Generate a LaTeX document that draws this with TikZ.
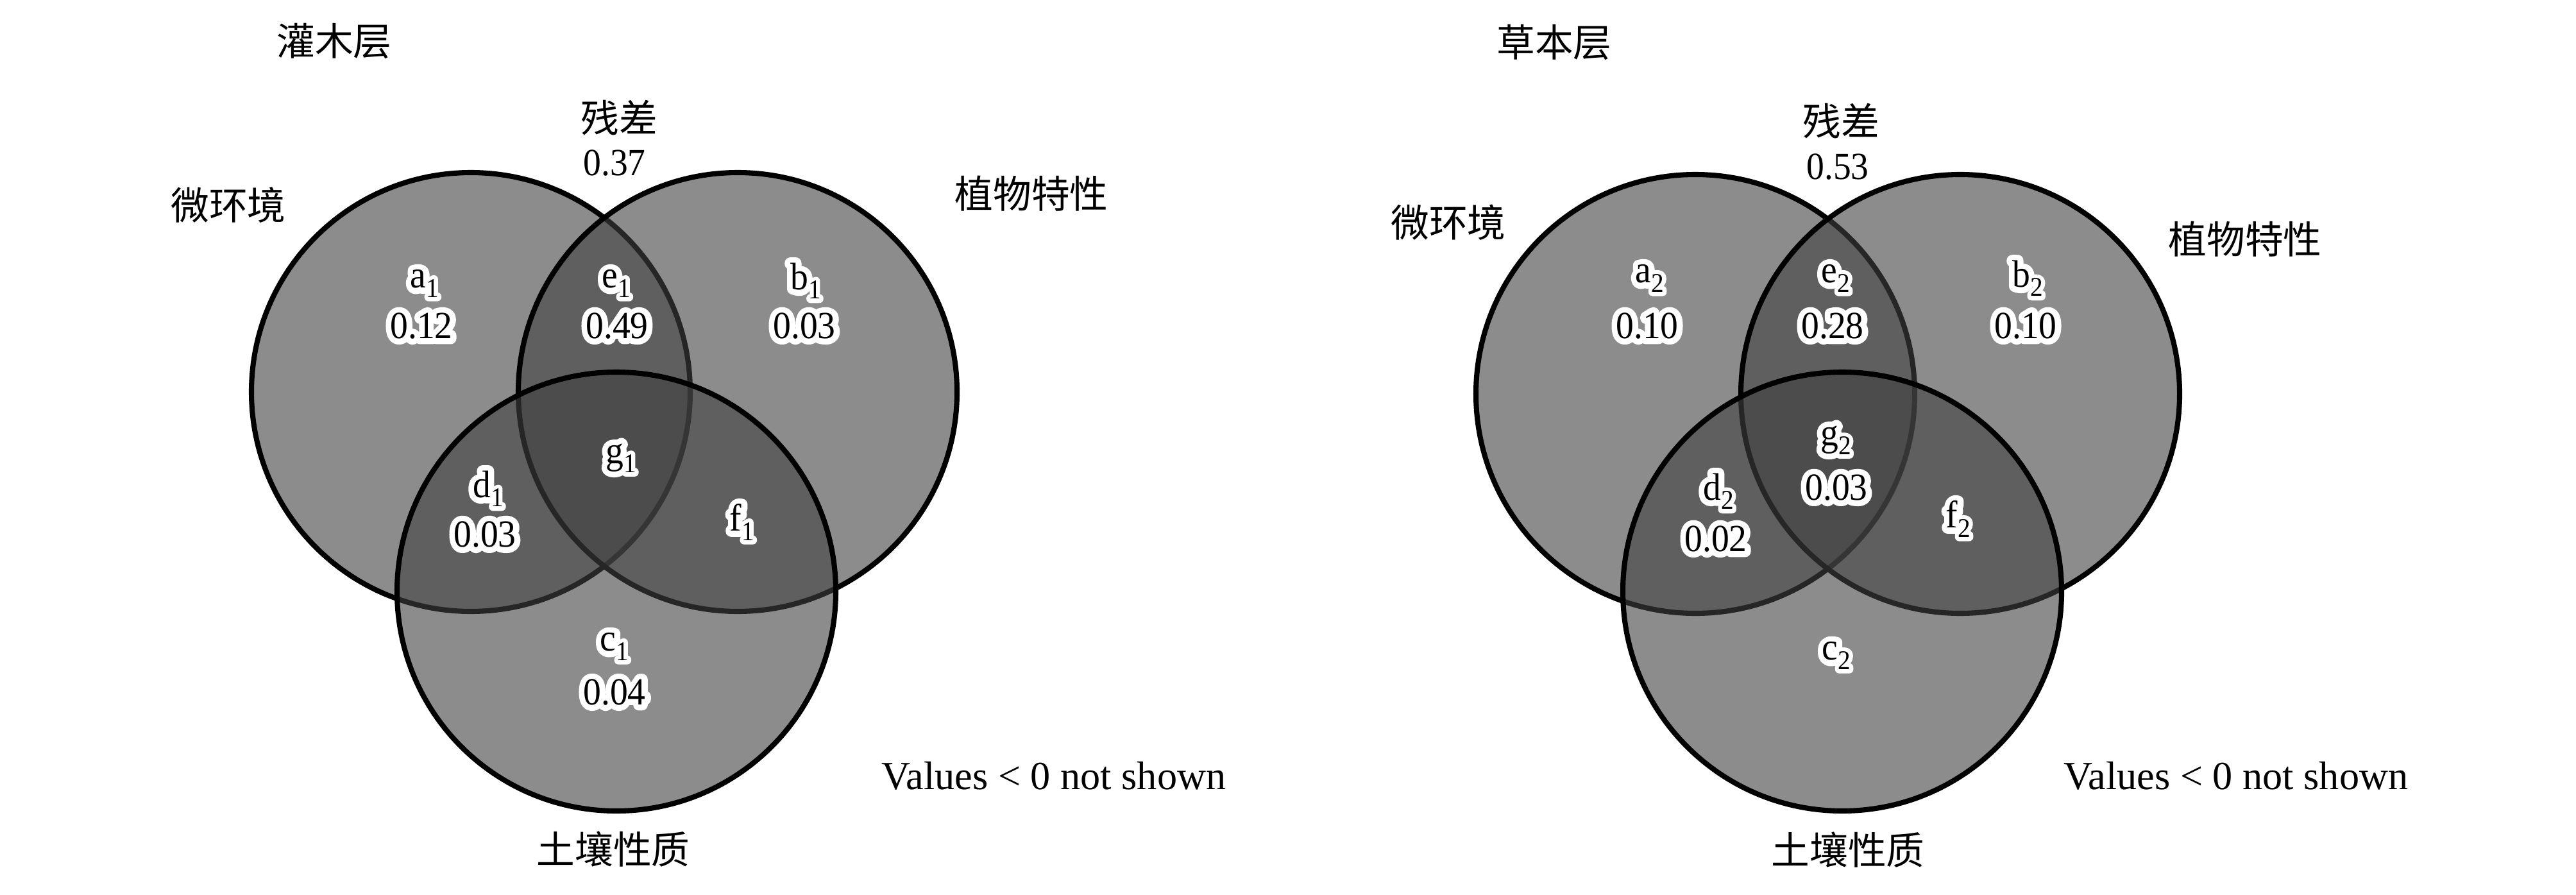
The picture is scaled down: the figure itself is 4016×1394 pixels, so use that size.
\documentclass[tikz,border=0pt]{standalone}
\usepackage{fontspec}
\setmainfont{Liberation Serif}
\newfontfamily\cjk{Noto Sans CJK SC}
\newfontfamily\labfont{Liberation Serif}[FakeStretch=0.93]
\newfontfamily\halofont{Liberation Serif}[FakeStretch=0.93,FakeBold=30]
\newcommand\lblsize{\fontsize{17pt}{20pt}\selectfont}
\newcommand\lsub[1]{\raisebox{-0.24em}{\fontsize{12pt}{12pt}\selectfont #1}}
\newcommand\hlab[3]{%
  \node[lbl,font=\halofont\lblsize,text=white,line join=round] at (#2) {#3};%
  \node[lbl] (#1) at (#2) {#3};}
\begin{document}
\begin{tikzpicture}[x=0.01cm,y=-0.01cm,
  lbl/.style={inner sep=0pt, font=\labfont\lblsize},
  note/.style={inner sep=0pt, font=\fontsize{17.7pt}{20pt}\selectfont},
  cjkl/.style={inner sep=0pt, font=\cjk\fontsize{17pt}{20pt}\selectfont},
  setc/.style={draw=black, line width=2.3pt, fill=black!75, fill opacity=0.6}]
\useasboundingbox (0,0) rectangle (4016,1394);
% ---------------- left panel (shrub layer)
\draw[setc] (734,611) circle[radius=342];
\draw[setc] (1150,611) circle[radius=342];
\draw[setc] (961,922) circle[radius=342];
\node[cjkl] (T1) at (521,64) {灌木层};
\node[cjkl] (R1) at (965,184) {残差};
\node[lbl] (RV1) at (958,254) {0.37};
\node[cjkl] (M1) at (356,320) {微环境};
\node[cjkl] (P1) at (1608,302) {植物特性};
\node[cjkl] (S1) at (956,1323) {土壤性质};
\node[note] (N1) at (1643,1209) {Values < 0 not shown};
\hlab{a1}{662,442}{a\lsub{1}}
\hlab{a1v}{657,508}{0.12}
\hlab{e1}{961,442}{e\lsub{1}}
\hlab{e1v}{962,508}{0.49}
\hlab{b1}{1256,438}{b\lsub{1}}
\hlab{b1v}{1254,508}{0.03}
\hlab{g1}{968,714}{g\lsub{1}}
\hlab{d1}{761,762}{d\lsub{1}}
\hlab{d1v}{756,833}{0.03}
\hlab{f1}{1157,814}{f\lsub{1}}
\hlab{c1}{958,1008}{c\lsub{1}}
\hlab{c1v}{958,1079}{0.04}
% ---------------- right panel (herb layer)
\draw[setc] (2643,614) circle[radius=342];
\draw[setc] (3056,614) circle[radius=342];
\draw[setc] (2872,922) circle[radius=342];
\node[cjkl] (T2) at (2423,66) {草本层};
\node[cjkl] (R2) at (2870,189) {残差};
\node[lbl] (RV2) at (2865,260) {0.53};
\node[cjkl] (M2) at (2258,347) {微环境};
\node[cjkl] (P2) at (3500,373) {植物特性};
\node[cjkl] (S2) at (2881,1324) {土壤性质};
\node[note] (N2) at (3486,1209) {Values < 0 not shown};
\hlab{a2}{2572,434}{a\lsub{2}}
\hlab{a2v}{2568,508}{0.10}
\hlab{e2}{2862,434}{e\lsub{2}}
\hlab{e2v}{2857,508}{0.28}
\hlab{b2}{3161,434}{b\lsub{2}}
\hlab{b2v}{3158,508}{0.10}
\hlab{g2}{2862,686}{g\lsub{2}}
\hlab{g2v}{2863,760}{0.03}
\hlab{d2}{2679,766}{d\lsub{2}}
\hlab{d2v}{2675,840}{0.02}
\hlab{f2}{3053,809}{f\lsub{2}}
\hlab{c2}{2863,1022}{c\lsub{2}}
\end{tikzpicture}
\end{document}
